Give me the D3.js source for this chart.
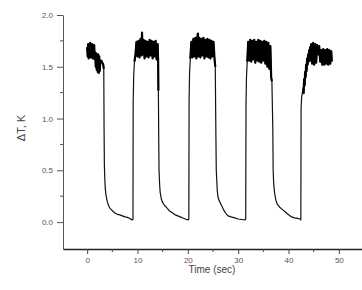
<!DOCTYPE html>
<html><head><meta charset="utf-8">
<script src="https://cdn.jsdelivr.net/npm/d3@7"></script>
<style>html,body{margin:0;padding:0;background:#fff;}svg{display:block;}</style>
</head><body>
<script>
// ---- data (time in sec, signal in K) ----
const xTicks = [0, 10, 20, 30, 40, 50];
const xMinorTicks = [5, 15, 25, 35, 45];
const yTicks = [0.0, 0.5, 1.0, 1.5, 2.0];
const yMinorTicks = [0.25, 0.75, 1.25, 1.75];
const xLabel = "Time (sec)";
const yLabel = "ΔT, K";

const high1 = [[0,1.69],[0.1,1.60],[0.2,1.72],[0.3,1.58],[0.4,1.71],[0.5,1.60],[0.6,1.73],[0.7,1.59],[0.8,1.70],[0.9,1.61],[1.0,1.72],[1.1,1.58],[1.2,1.70],[1.3,1.60],[1.4,1.71],[1.5,1.57],[1.6,1.64],[1.7,1.50],[1.8,1.63],[1.9,1.47],[2.0,1.62],[2.1,1.45],[2.2,1.62],[2.3,1.44],[2.4,1.60],[2.5,1.46],[2.6,1.56],[2.8,1.56],[3.0,1.54],[3.2,1.52],[3.3,1.48]];
const low1 = [[3.36,0.90],[3.42,0.55],[3.5,0.42],[3.6,0.32],[3.75,0.26],[3.9,0.22],[4.05,0.19],[4.25,0.16],[4.5,0.135],[4.8,0.12],[5.2,0.10],[5.6,0.085],[6.0,0.075],[6.5,0.07],[7.0,0.06],[7.5,0.05],[8.0,0.045],[8.5,0.035],[8.9,0.02],[9.1,0.025]];
const high2 = [[9.14,1.15],[9.25,1.42],[9.4,1.55],[9.6,1.62],[9.8,1.74],[10.0,1.60],[10.2,1.75],[10.4,1.59],[10.6,1.77],[10.8,1.61],[10.9,1.83],[11.0,1.62],[11.2,1.76],[11.4,1.58],[11.6,1.75],[11.8,1.60],[12.0,1.74],[12.2,1.59],[12.4,1.76],[12.6,1.61],[12.8,1.75],[13.0,1.58],[13.2,1.74],[13.4,1.60],[13.6,1.75],[13.8,1.57],[14.0,1.72],[14.1,1.55],[14.15,1.27]];
const low2 = [[14.22,0.80],[14.28,0.50],[14.4,0.36],[14.5,0.29],[14.7,0.23],[14.9,0.20],[15.1,0.18],[15.4,0.16],[15.8,0.14],[16.3,0.11],[16.9,0.09],[17.5,0.07],[18.0,0.06],[18.5,0.05],[19.0,0.04],[19.5,0.03],[20.0,0.02],[20.2,0.03]];
const high3 = [[20.25,1.18],[20.35,1.45],[20.5,1.58],[20.7,1.74],[20.9,1.59],[21.1,1.77],[21.3,1.60],[21.5,1.78],[21.7,1.58],[21.9,1.79],[22.0,1.82],[22.1,1.60],[22.3,1.78],[22.5,1.59],[22.7,1.77],[22.9,1.61],[23.1,1.78],[23.3,1.58],[23.5,1.76],[23.7,1.60],[23.9,1.77],[24.1,1.59],[24.3,1.76],[24.5,1.58],[24.7,1.75],[24.9,1.60],[25.1,1.74],[25.3,1.58],[25.45,1.50]];
const low3 = [[25.58,0.82],[25.65,0.50],[25.75,0.40],[25.85,0.30],[26.0,0.24],[26.2,0.21],[26.5,0.18],[26.8,0.15],[27.2,0.11],[27.6,0.08],[28.0,0.06],[28.6,0.05],[29.3,0.04],[30.0,0.03],[30.7,0.025],[31.3,0.02],[31.5,0.03]];
const high4 = [[31.56,1.15],[31.65,1.40],[31.8,1.55],[32.0,1.74],[32.2,1.56],[32.4,1.76],[32.6,1.55],[32.8,1.75],[33.0,1.57],[33.2,1.76],[33.4,1.54],[33.6,1.74],[33.8,1.56],[34.0,1.76],[34.2,1.55],[34.4,1.75],[34.6,1.54],[34.8,1.74],[35.0,1.56],[35.2,1.75],[35.4,1.53],[35.6,1.74],[35.8,1.50],[36.0,1.73],[36.2,1.48],[36.4,1.70],[36.55,1.40],[36.7,1.36]];
const low4 = [[36.88,0.90],[36.95,0.50],[37.05,0.38],[37.15,0.32],[37.3,0.26],[37.5,0.21],[37.8,0.17],[38.3,0.14],[38.8,0.12],[39.3,0.10],[39.9,0.075],[40.6,0.05],[41.2,0.04],[41.8,0.035],[42.3,0.03],[42.45,0.02]];
const high5 = [[42.5,1.10],[42.6,1.20],[42.75,1.25],[42.9,1.30],[43.0,1.24],[43.1,1.38],[43.2,1.32],[43.3,1.45],[43.4,1.40],[43.5,1.52],[43.6,1.46],[43.7,1.58],[43.8,1.52],[43.9,1.62],[44.0,1.55],[44.1,1.66],[44.2,1.57],[44.3,1.69],[44.4,1.56],[44.5,1.72],[44.7,1.53],[44.9,1.73],[45.1,1.52],[45.3,1.72],[45.5,1.54],[45.7,1.71],[45.9,1.62],[46.1,1.70],[46.3,1.55],[46.5,1.66],[46.7,1.52],[46.9,1.67],[47.1,1.52],[47.3,1.66],[47.5,1.53],[47.7,1.67],[47.9,1.52],[48.1,1.66],[48.3,1.53],[48.5,1.65],[48.6,1.55]];

const segments = [high1, low1, high2, low2, high3, low3, high4, low4, high5];
const plateaus = [high1, high2.slice(2), high3.slice(2), high4.slice(2), high5.slice(4)];

// ---- drawing ----
const W = 362, H = 290;
const svg = d3.select("body").append("svg").attr("width", W).attr("height", H);

const x = d3.scaleLinear().domain([-4.8, 54.6]).range([63, 362]);
const y = d3.scaleLinear().domain([-0.26, 2.0]).range([249, 15]);

const font = "'Liberation Sans', Arial, sans-serif";

// trace
const line = d3.line().x(d => x(d[0])).y(d => y(d[1]));
svg.append("path")
  .datum(segments.flat())
  .attr("d", line)
  .attr("fill", "none")
  .attr("stroke", "#111")
  .attr("stroke-width", 1.2)
  .attr("stroke-linejoin", "round");
// noisy plateaus (dense band)
svg.selectAll(".plateau").data(plateaus).join("path")
  .attr("class", "plateau")
  .attr("d", line)
  .attr("fill", "none")
  .attr("stroke", "#000")
  .attr("stroke-width", 2.2)
  .attr("stroke-linejoin", "round");

// y axis
const gy = svg.append("g").attr("transform", `translate(${x.range()[0]},0)`);
gy.call(d3.axisLeft(y).tickValues(yTicks).tickSize(6).tickSizeOuter(0).tickFormat(d3.format(".1f")));
gy.call(g => g.selectAll(".minor").data(yMinorTicks).join("line")
  .attr("class", "minor").attr("x1", -3).attr("x2", 0)
  .attr("y1", d => y(d)).attr("y2", d => y(d)).attr("stroke", "#555"));
gy.select(".domain").attr("stroke", "#555").attr("stroke-width", 1);
gy.selectAll(".tick line").attr("stroke", "#555");
gy.selectAll(".tick text").attr("font-family", font).attr("font-size", 8).attr("fill", "#555").attr("x", -10);

// x axis
const gx = svg.append("g").attr("transform", `translate(0,${y.range()[0]})`);
gx.call(d3.axisBottom(x).tickValues(xTicks).tickSize(5).tickSizeOuter(0).tickFormat(d3.format("d")));
gx.call(g => g.selectAll(".minor").data(xMinorTicks).join("line")
  .attr("class", "minor").attr("y1", 0).attr("y2", 3)
  .attr("x1", d => x(d)).attr("x2", d => x(d)).attr("stroke", "#444"));
gx.select(".domain").attr("stroke", "#222").attr("stroke-width", 1.6);
gx.selectAll(".tick line").attr("stroke", "#444");
gx.selectAll(".tick text").attr("font-family", font).attr("font-size", 8).attr("fill", "#555").attr("y", 8);

// labels
svg.append("text").attr("x", 212).attr("y", 273).attr("text-anchor", "middle")
  .attr("font-family", font).attr("font-size", 10).attr("fill", "#444").text(xLabel);
svg.append("text").attr("transform", "translate(25,128) rotate(-90)").attr("text-anchor", "middle")
  .attr("font-family", font).attr("font-size", 11).attr("fill", "#444").text(yLabel);
</script>
</body></html>
